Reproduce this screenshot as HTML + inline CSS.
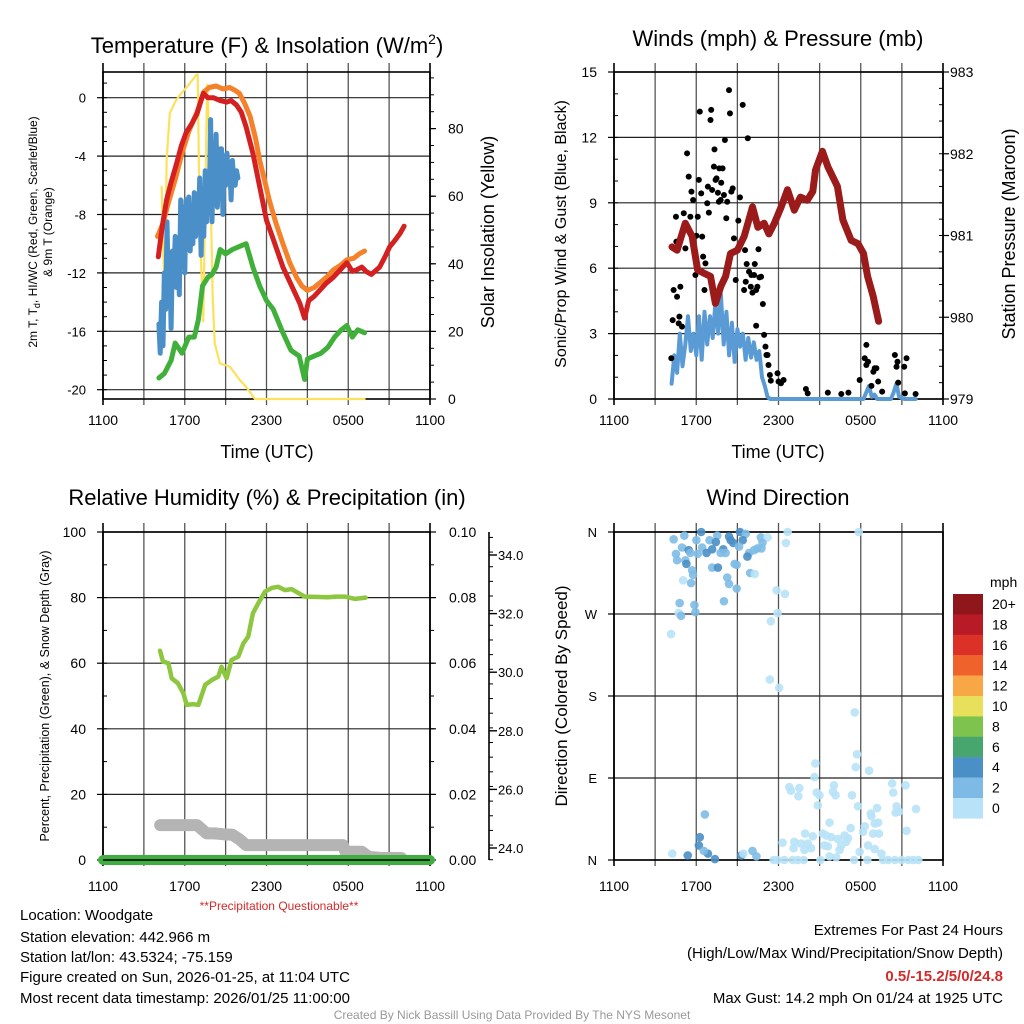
<!DOCTYPE html>
<html><head><meta charset="utf-8">
<style>
html,body{margin:0;padding:0;background:#fff;}
svg{display:block;font-family:"Liberation Sans",Arial,sans-serif;}
</style></head>
<body>
<svg id="chart" width="1024" height="1024" viewBox="0 0 1024 1024" xmlns="http://www.w3.org/2000/svg">
<rect width="1024" height="1024" fill="#fff"/>
<g id="static" fill="#000">
<text x="267" y="53" font-size="22" text-anchor="middle">Temperature (F) &amp; Insolation (W/m<tspan font-size="14" dy="-9">2</tspan><tspan dy="9">)</tspan></text>
<text x="778" y="46" font-size="22" text-anchor="middle">Winds (mph) &amp; Pressure (mb)</text>
<text x="267" y="505" font-size="22" text-anchor="middle">Relative Humidity (%) &amp; Precipitation (in)</text>
<text x="778" y="505" font-size="22" text-anchor="middle">Wind Direction</text>

<text transform="translate(37,232) rotate(-90)" font-size="12" text-anchor="middle">2m T, T<tspan font-size="9" dy="3">d</tspan><tspan dy="-3">, HI/WC (Red, Green, Scarlet/Blue)</tspan></text>
<text transform="translate(52,232) rotate(-90)" font-size="12" text-anchor="middle">&amp; 9m T (Orange)</text>
<text transform="translate(494,232) rotate(-90)" font-size="18" text-anchor="middle">Solar Insolation (Yellow)</text>
<text transform="translate(566,234) rotate(-90)" font-size="16" text-anchor="middle">Sonic/Prop Wind &amp; Gust (Blue, Black)</text>
<text transform="translate(1015,234) rotate(-90)" font-size="18" text-anchor="middle">Station Pressure (Maroon)</text>
<text transform="translate(49,696) rotate(-90)" font-size="12.5" text-anchor="middle">Percent, Precipitation (Green), &amp; Snow Depth (Gray)</text>
<text transform="translate(567,696) rotate(-90)" font-size="17" text-anchor="middle">Direction (Colored By Speed)</text>

<text x="267" y="458" font-size="18" text-anchor="middle">Time (UTC)</text>
<text x="778" y="458" font-size="18" text-anchor="middle">Time (UTC)</text>
<text x="279" y="910" font-size="12" fill="#d42a2a" text-anchor="middle">**Precipitation Questionable**</text>

<text x="20" y="920" font-size="15">Location: Woodgate</text>
<text x="20" y="942" font-size="15">Station elevation: 442.966 m</text>
<text x="20" y="962" font-size="15">Station lat/lon: 43.5324; -75.159</text>
<text x="20" y="982" font-size="15">Figure created on Sun, 2026-01-25, at 11:04 UTC</text>
<text x="20" y="1003" font-size="15">Most recent data timestamp: 2026/01/25 11:00:00</text>

<text x="1003" y="935" font-size="15" text-anchor="end">Extremes For Past 24 Hours</text>
<text x="1003" y="958" font-size="15" text-anchor="end">(High/Low/Max Wind/Precipitation/Snow Depth)</text>
<text x="1003" y="981" font-size="15" font-weight="bold" fill="#d42a2a" text-anchor="end">0.5/-15.2/5/0/24.8</text>
<text x="1003" y="1003" font-size="15" text-anchor="end">Max Gust: 14.2 mph On 01/24 at 1925 UTC</text>
<text x="512" y="1019" font-size="12" fill="#999" text-anchor="middle">Created By Nick Bassill Using Data Provided By The NYS Mesonet</text>
</g>
</svg>
<script>
// ---------- data ----------
const timeTickLabels = ["1100","1700","2300","0500","1100"];
const tempTicks = [0,-4,-8,-12,-16,-20];
const insolTicks = [0,20,40,60,80];
const windTicks = [0,3,6,9,12,15];
const presTicks = [979,980,981,982,983];
const rhTicks = [0,20,40,60,80,100];
const precipTicks = ["0.00","0.02","0.04","0.06","0.08","0.10"];
const snowTicks = ["24.0","26.0","28.0","30.0","32.0","34.0"];
const dirTickLabels = ["N","E","S","W","N"];
const speedBins = ["0","2","4","6","8","10","12","14","16","18","20+"];
const speedColors = ["#b8e2f7","#7dbbe6","#4a8fc6","#47a56e","#7dc34d","#e8df5a","#f7a746","#f0622c","#dc3127","#b81a26","#8f171b"];

const tempT = [4.06,4.35,4.67,5.0,5.4,5.75,6.1,6.5,6.9,7.36,7.7,8.1,8.6,9.07,9.4,9.8,10.15,10.5,11.0,11.5,12.0,12.5,13.2,14.0,14.45,14.8,15.1,15.5,15.9,16.4,16.9,17.4,17.9,18.3,18.6,19.0,19.3,19.7,20.3,20.7,21.05,21.4,21.8,22.1];
const tempV = [-10.9,-8.8,-7.0,-5.8,-4.5,-3.3,-2.4,-1.8,-1.1,0.3,0.0,0.0,-0.2,-0.3,-0.2,-0.5,-1.0,-2.0,-3.8,-6.1,-8.4,-9.7,-11.6,-13.2,-14.1,-15.1,-13.9,-13.6,-13.2,-12.7,-12.3,-11.8,-11.3,-11.9,-11.8,-11.6,-11.9,-12.1,-11.6,-10.9,-10.2,-9.8,-9.3,-8.8];
const t9T = [4.0,4.4,4.8,5.3,5.8,6.3,6.9,7.4,7.8,8.3,8.8,9.3,9.7,10.0,10.4,10.8,11.2,11.5,11.9,12.2,12.7,13.2,13.7,14.2,14.6,15.0,15.5,15.9,16.4,16.9,17.4,17.9,18.4,18.8,19.2];
const t9V = [-9.5,-8.6,-7.2,-5.6,-3.8,-2.3,-1.0,0.4,0.7,0.8,0.6,0.7,0.5,0.3,-0.4,-1.3,-2.8,-4.3,-5.8,-7.0,-8.6,-10.0,-11.3,-12.3,-12.9,-13.2,-13.0,-12.7,-12.3,-11.8,-11.5,-11.1,-11.0,-10.7,-10.5];
const wcT = [4.1,4.2,4.3,4.4,4.5,4.6,4.7,4.8,4.9,5.0,5.1,5.2,5.3,5.4,5.5,5.6,5.7,5.8,5.9,6.0,6.1,6.2,6.3,6.4,6.5,6.6,6.7,6.8,6.9,7.0,7.1,7.2,7.3,7.4,7.5,7.6,7.7,7.8,7.9,8.0,8.1,8.2,8.3,8.4,8.5,8.6,8.7,8.8,8.9,9.0,9.1,9.2,9.3,9.4,9.5,9.6,9.7,9.8,9.9];
const wcV = [-15.5,-17.5,-14,-17,-12,-14.5,-8.5,-13.5,-11,-15.8,-10.5,-12.5,-9.5,-13,-10,-13.5,-7,-11,-7.5,-12,-7,-10,-6.8,-10.5,-7.5,-10,-6.5,-9.5,-7.5,-9,-5.5,-10.8,-6.5,-9.5,-5,-8.5,-6,-7,-1.5,-8.5,-4,-6.5,-2.5,-7.5,-3.5,-6,-3.5,-8,-4,-6,-3.8,-5.5,-4.5,-7,-4.3,-5.8,-6,-5,-5.5];
const tdT = [4.1,4.5,5.0,5.3,5.8,6.3,6.7,7.0,7.3,7.7,8.0,8.3,8.6,9.0,9.5,10.0,10.5,11.0,11.5,12.0,12.5,13.2,13.8,14.4,14.8,15.0,15.5,16.0,16.5,17.0,17.5,17.9,18.3,18.7,19.2];
const tdV = [-19.2,-18.9,-18.0,-16.8,-17.5,-16.4,-16.4,-15.2,-12.9,-12.3,-12.1,-11.6,-10.4,-10.7,-10.4,-10.2,-10.0,-11.6,-12.9,-13.9,-14.5,-16.1,-17.3,-17.7,-19.3,-17.9,-17.7,-17.5,-17.1,-16.4,-15.9,-15.6,-16.4,-15.9,-16.1];
const insT = [4.3,4.55,4.67,4.9,5.3,5.65,6.3,6.87,6.95,7.1,7.36,7.5,7.65,7.85,8.05,8.2,8.58,9.3,9.6,10.05,10.5,11.15,13.0,15.0,17.0,19.2];
const insV = [62.8,26,70.7,84.5,88,90,93,96,96,51,23,60,93,70,30,16.5,10.5,9.6,8,5.6,3.6,0,0,0,0,0];

const presT = [4.23,4.6,5.2,5.7,6.1,6.55,7.04,7.4,7.8,8.14,8.5,9.0,9.5,10.1,10.5,10.95,11.3,11.7,12.2,12.66,13.15,13.6,14.1,14.5,14.7,15.2,15.6,16.3,16.7,17.3,17.8,18.2,18.5,18.9,19.3];
const presV = [980.86,980.82,981.15,980.99,980.58,980.54,980.5,980.17,980.38,980.5,980.78,980.82,980.99,981.35,981.1,981.15,981.02,981.15,981.35,981.56,981.31,981.47,981.43,981.54,981.8,982.03,981.84,981.6,981.19,980.94,980.9,980.78,980.5,980.26,979.95];
const windT = [4.2,4.4,4.6,4.8,5.0,5.2,5.4,5.6,5.8,6.0,6.2,6.4,6.6,6.8,7.0,7.2,7.4,7.6,7.8,8.0,8.2,8.4,8.6,8.8,9.0,9.2,9.4,9.6,9.8,10.0,10.2,10.4,10.6,10.8,11.0,11.2,11.4,12,14,16,18.2,18.4,18.6,18.8,19.0,19.2,20.2,20.4,20.6,20.8,21.2,22.0];
const windV = [0.7,2.0,1.2,3.0,1.5,2.5,3.8,2.2,3.0,2.0,3.8,1.8,4.0,2.5,3.8,2.8,4.4,3.0,4.8,2.5,4.0,2.0,3.5,1.7,3.2,2.4,3.0,1.8,2.8,1.9,2.6,1.8,2.2,1.0,0.6,0.1,0,0,0,0,0,0.3,0.6,0.1,0.2,0,0,0.3,0.7,0.1,0,0];
const gustT = [4.18,4.28,4.35,4.55,4.6,4.72,4.77,4.84,4.96,4.52,5.09,5.21,5.33,5.45,5.57,5.65,5.77,5.94,6.01,6.11,6.19,6.26,6.36,6.43,6.5,6.6,6.67,6.8,6.85,6.92,7.04,7.09,7.16,7.29,7.33,7.41,7.48,7.58,7.65,7.68,7.78,7.82,7.92,8.02,8.09,8.19,8.26,8.39,8.46,8.56,8.66,8.75,8.88,9.07,9.19,9.39,9.49,9.56,9.61,9.68,9.76,9.85,9.98,10.02,10.1,10.22,10.27,10.37,10.46,10.54,10.61,10.73,10.86,10.37,10.95,11.05,11.12,11.2,11.27,11.37,11.44,11.93,12.0,12.18,12.37,14.0,14.13,15.6,16.58,17.1,17.92,18.29,18.41,18.41,18.53,18.78,18.92,19.02,19.14,19.27,19.56,20.49,20.61,20.68,20.73,21.17,21.34,21.22,22.0];
const gustV = [1.87,3.62,5.0,7.22,4.69,3.47,3.78,5.15,3.32,8.36,8.52,6.91,11.27,10.2,8.36,9.51,9.13,5.69,7.49,8.36,10.05,13.18,9.43,7.45,6.53,5.0,6.22,8.98,9.74,8.55,12.8,13.26,9.59,10.66,11.45,10.05,10.12,9.46,9.05,10.58,9.13,9.92,10.58,9.36,11.88,8.29,9.05,14.17,13.1,9.51,9.66,7.37,5.46,8.18,9.25,13.49,5.0,6.83,5.38,6.19,11.96,5.84,5.15,5.69,4.88,5.69,6.19,5.0,5.15,6.87,5.58,5.61,4.36,3.36,2.94,2.4,2.02,2.02,1.56,1.1,0.84,1.18,0.8,0.72,0.87,0.46,0.26,0.29,0.23,0.29,0.87,1.87,2.48,1.56,1.71,0.6,1.25,1.41,1.41,0.8,0.34,2.02,1.48,1.71,0.75,1.48,1.87,0.26,0.23];

const rhT = [4.18,4.4,4.8,5.04,5.5,5.9,6.14,6.6,7.0,7.5,8.0,8.46,8.7,9.07,9.44,9.93,10.3,10.66,11.0,11.4,11.88,12.4,12.86,13.35,13.84,14.3,14.8,15.6,16.5,17.1,17.75,18.5,19.27];
const rhV = [63.8,60.5,60,55.4,53.9,50.8,47.3,47.5,47.3,53.4,54.9,55.9,58.9,55.4,61,62,66,68.1,75.2,78.3,81.8,83,83.3,82.3,82.6,81.5,80.3,80.2,80.1,80.3,80.3,79.6,80.0];
const precipT = [0,2,4,6,8,10,12,14,16,18,20,22,24];
const precipV = [0,0,0,0,0,0,0,0,0,0,0,0,0];
const snowT = [4.2,5.0,6.0,6.9,7.3,7.6,8.2,8.8,9.5,10.0,10.5,11.5,13.0,15.0,17.6,17.8,19.0,19.5,20.5,21.9];
const snowV = [24.78,24.78,24.78,24.78,24.62,24.5,24.5,24.47,24.45,24.3,24.1,24.1,24.1,24.1,24.1,23.87,23.87,23.7,23.66,23.66];

const dirT = [4.35,5.13,6.36,6.01,7.53,6.97,7.43,8.39,8.51,9.19,9.61,9.39,10.71,11.2,10.83,12.67,12.54,17.85,4.96,5.45,6.43,7.16,7.97,7.78,8.14,8.7,9.12,10.46,10.76,10.22,9.85,9.73,4.52,4.6,6.11,6.75,5.21,5.28,5.57,7.16,7.58,8.8,8.95,5.7,5.77,9.93,10.27,5.04,5.62,8.26,8.39,8.95,11.86,12.47,4.79,5.87,8.02,4.72,4.89,5.94,11.93,11.44,4.16,11.37,12.05,17.56,17.73,17.63,18.61,14.69,14.62,6.63,6.26,6.19,6.85,6.55,5.38,7.36,4.25,9.29,9.44,10.1,10.39,12.79,12.91,13.52,13.45,14.79,14.99,14.87,16.04,15.97,16.16,17.36,17.8,18.73,18.78,19.19,20.29,20.37,21.27,20.61,20.54,20.78,22.03,15.72,17.26,18.29,18.17,18.9,19.32,19.02,19.27,21.34,13.94,14.5,15.23,15.48,15.84,16.33,16.82,17.07,16.94,16.58,12.3,13.15,13.64,14.13,14.38,13.1,13.89,15.35,15.6,16.45,17.92,18.53,19.02,19.51,15.72,16.21,11.64,11.93,12.42,13.03,13.4,13.84,15.06,17.51,18.48,19.63,20.0,20.49,20.98,21.47,21.83,22.2];
const dirV = [352,356,360,351,356,351,349,355,351,360,358,351,354,354,348,360,348,360,343,340,343,341,341,337,337,348,344,342,342,340,337,333,336,329,336,337,329,325,337,321,321,325,324,318,313,315,314,307,304,310,303,298,296,292,282,280,284,271,268,272,271,262,248,198,189,162,116,102,98,106,91,50,25,16,7,10,5,1,7,5,7,10,4,80,76,79,70,74,71,60,82,75,71,71,59,51,48,57,84,74,82,59,52,53,56,41,35,37,31,29,29,40,41,32,29,26,29,27,25,23,27,24,20,16,19,20,18,18,13,13,11,16,15,11,9,16,12,7,4,3,0,0,0,0,0,0,0,0,0,0,0,0,0,0,0,0];
const dirSpd = [3,3,5,3,3,3,5,5,5,5,3,5,3,1,3,1,1,1,3,5,3,5,5,3,3,5,3,3,3,3,3,5,3,3,3,5,3,5,3,3,5,3,3,3,3,3,1,1,3,3,3,3,1,1,3,3,3,1,3,3,1,1,1,1,1,1,1,1,1,1,1,3,5,5,5,3,5,5,1,5,1,3,3,1,1,1,1,1,1,1,1,1,1,1,1,1,1,1,1,1,1,1,1,1,1,1,1,1,1,1,1,1,1,1,1,1,1,1,1,1,1,1,1,1,1,1,1,1,1,1,1,1,1,1,1,1,1,1,1,1,1,1,1,1,1,1,1,1,1,1,1,1,1,1,1,1];

// ---------- scales ----------
const NS="http://www.w3.org/2000/svg";
const svg=document.getElementById('chart');
const L={x0:103,x1:430}, R={x0:614,x1:943};
const xL=h=>L.x0+h*(L.x1-L.x0)/24;
const xR=h=>R.x0+h*(R.x1-R.x0)/24;
const yTemp=v=>97.7-v*14.6;
const yIns=v=>399-v*3.38;
const yWind=v=>399-v*21.8;
const yPres=v=>399-(v-979)*81.75;
const yRH=v=>860-v*3.28;
const yPrecip=v=>860-v*3280;
const ySnow=v=>848-(v-24)*29.3;
const yDir=v=>860-v*328/360;

function mk(tag,attrs,parent){const e=document.createElementNS(NS,tag);for(const k in attrs)e.setAttribute(k,attrs[k]);(parent||svg).appendChild(e);return e;}
function line(x1,y1,x2,y2,stroke,w,name){
  const e=mk('line',{x1,y1,x2,y2,stroke,'stroke-width':w});
  
  
  return e;}
function txt(x,y,s,size,anchor,name){
  const e=mk('text',{x,y,'font-size':size,'text-anchor':anchor});
  e.textContent=s;
  
  
  return e;}
function series(ts,vs,xf,yf,color,w,name){
  const d=ts.map((t,i)=>(i?'L':'M')+xf(t).toFixed(1)+' '+yf(vs[i]).toFixed(1)).join(' ');
  const e=mk('path',{d,fill:'none',stroke:color,'stroke-width':w,'stroke-linejoin':'round','stroke-linecap':'round'});
  
  
  return e;}
function minorTicks(x,y0,y1,step,dir,name){
  for(let y=y0;y>=y1-0.5;y-=step){line(x,y,x+dir*4,y,'#000',1,name);}
}

function frame(P,yTop,yBot,hVals,yf,prefix){
  for(let i=1;i<8;i++){const x=P.x0+i*(P.x1-P.x0)/8;
    line(x,yTop-9,x,yBot+6,'#555',1.3,prefix+'-vertical-gridline');}
  hVals.forEach(v=>line(P.x0,yf(v),P.x1,yf(v),'#222',1.2,prefix+'-horizontal-gridline'));
  const b=mk('rect',{x:P.x0,y:yTop,width:P.x1-P.x0,height:yBot-yTop,fill:'none',stroke:'#000','stroke-width':1.6});
  
  
  line(P.x0,yTop-9,P.x0,yBot+6,'#000',1.6,prefix+'-left-axis');
  line(P.x1,yTop-9,P.x1,yBot+6,'#000',1.6,prefix+'-right-axis');
}
function timeLabels(P,y,prefix){
  timeTickLabels.forEach((s,i)=>txt(P.x0+i*(P.x1-P.x0)/4,y,s,14,'middle',prefix+'-x-tick-label'));}

// ---------- panel 1 ----------
frame(L,72,399,tempTicks,yTemp,'temperature');
minorTicks(L.x0,yTemp(-20),72,14.6,1,'temperature-minor-tick');
minorTicks(L.x1,399,72,16.9,1,'insolation-minor-tick');
tempTicks.forEach(v=>{line(L.x0-6,yTemp(v),L.x0,yTemp(v),'#000',1.2,'temperature-y-tick');txt(86,yTemp(v)+5,String(v),13,'end','temperature-y-tick-label');});
insolTicks.forEach(v=>{line(L.x1,yIns(v),L.x1+6,yIns(v),'#000',1.2,'insolation-y-tick');txt(448,yIns(v)+5,String(v),14,'start','insolation-y-tick-label');});
timeLabels(L,425,'temperature');
series(insT,insV,xL,yIns,'#fce15a',2.2,'insolation-line');
series(tdT,tdV,xL,yTemp,'#41b03b',5,'dewpoint-line');
series(wcT,wcV,xL,yTemp,'#4a8fc8',5,'wind-chill-line');
series(t9T,t9V,xL,yTemp,'#f5822a',5,'temperature-9m-line');
series(tempT,tempV,xL,yTemp,'#d42020',5,'temperature-2m-line');

// ---------- panel 2 ----------
frame(R,72,399,windTicks,yWind,'winds');
minorTicks(R.x0,399,72,21.8,1,'wind-minor-tick');
minorTicks(R.x1,399,72,16.35,-1,'pressure-minor-tick');
windTicks.forEach(v=>{line(R.x0-6,yWind(v),R.x0,yWind(v),'#000',1.2,'wind-y-tick');txt(597,yWind(v)+5,String(v),14,'end','wind-y-tick-label');});
presTicks.forEach(v=>{line(R.x1,yPres(v),R.x1+6,yPres(v),'#000',1.2,'pressure-y-tick');txt(950,yPres(v)+5,String(v),14,'start','pressure-y-tick-label');});
timeLabels(R,425,'winds');
series(windT,windV,xR,yWind,'#5a9bd5',4,'wind-speed-line');
gustT.forEach((t,i)=>{const c=mk('circle',{cx:xR(t),cy:yWind(gustV[i]),r:3,fill:'#000'});
  
  });
series(presT,presV,xR,yPres,'#9b1a1a',7,'pressure-line');

// ---------- panel 3 ----------
frame(L,532,860,rhTicks,yRH,'humidity');
minorTicks(L.x0,860,532,32.8,1,'humidity-minor-tick');
minorTicks(L.x1,860,532,32.8,1,'precip-minor-tick');
rhTicks.forEach(v=>{line(L.x0-6,yRH(v),L.x0,yRH(v),'#000',1.2,'humidity-y-tick');txt(86,yRH(v)+5,String(v),14,'end','humidity-y-tick-label');});
precipTicks.forEach((s,i)=>{const y=yPrecip(i*0.02);line(L.x1,y,L.x1+6,y,'#000',1.2,'precip-y-tick');txt(449,y+5,s,14,'start','precip-y-tick-label');});
line(489,532,489,860,'#000',1.6,'snow-depth-axis');
minorTicks(489,ySnow(23.6),532,14.65,1,'snow-depth-minor-tick');
snowTicks.forEach(s=>{const y=ySnow(parseFloat(s));line(489,y,497,y,'#000',1.4,'snow-depth-tick');txt(498,y+5,s,13,'start','snow-depth-tick-label');});
timeLabels(L,891,'humidity');
series(snowT,snowV,xL,ySnow,'#b4b4b4',12,'snow-depth-line');
series(precipT,precipV,xL,yPrecip,'#3fae3f',10,'precipitation-line');
line(L.x0,860,L.x1,860,'#000',1.4,'humidity-bottom-border');
series(rhT,rhV,xL,yRH,'#8dc63f',4.5,'relative-humidity-line');

// ---------- panel 4 ----------
frame(R,532,860,[0,90,180,270,360],yDir,'direction');
dirTickLabels.forEach((s,i)=>{const y=yDir(i*90);line(R.x0-6,y,R.x0,y,'#000',1.2,'direction-y-tick');txt(597,y+5,s,13,'end','direction-y-tick-label');});
timeLabels(R,891,'direction');
dirT.forEach((t,i)=>{const bin=Math.min(10,Math.floor(dirSpd[i]/2));
  const c=mk('circle',{cx:xR(t),cy:yDir(dirV[i]),r:4.3,fill:speedColors[bin],'fill-opacity':0.9});
  
  });

// colorbar
txt(990,587,'mph',14,'start','colorbar-unit-label');
speedBins.forEach((s,i)=>{const k=10-i;const y=594+i*20.4;
  const r=mk('rect',{x:953,y:y,width:30,height:20.6,fill:speedColors[k]});
  
  
  txt(992,y+15,speedBins[k],14,'start','colorbar-label');});
</script>
</body></html>
